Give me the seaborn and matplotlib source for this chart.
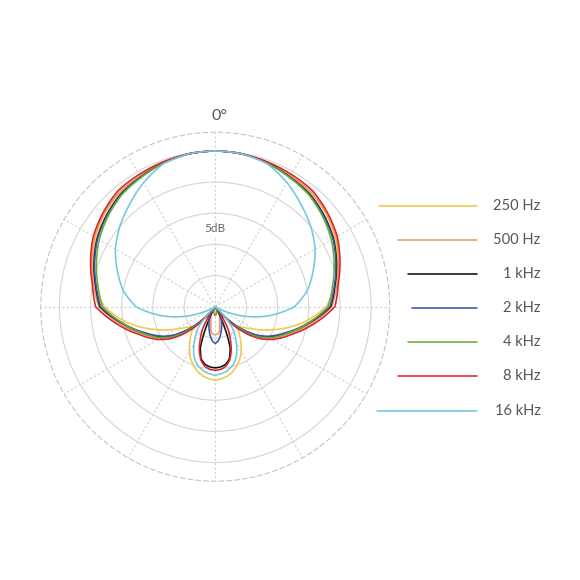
import numpy as np
import pandas as pd
import matplotlib
matplotlib.use("Agg")
import matplotlib.pyplot as plt
import seaborn as sns

# ---- data (dB relative to on-axis, -25 dB = centre) ----
angles_deg = [0, 10, 20, 30, 40, 50, 60, 70, 80, 90, 100, 110, 115, 120, 125, 130, 135, 140, 145,
              150, 155, 160, 165, 170, 175, 180, 185, 190, 195, 200, 205, 210, 215, 220, 225, 230,
              235, 240, 245, 250, 260, 270, 280, 290, 300, 310, 320, 330, 340, 350, 360]

freq_labels = ["250 Hz", "500 Hz", "1 kHz", "2 kHz", "4 kHz", "8 kHz", "16 kHz"]

db_250 = [0, -0.1, -0.4, -0.8, -1.1, -1.8, -2.8, -4.1, -5.5, -7.2, -10.6, -14.4, -16.2, -17.8, -19.2,
          -20.0, -19.8, -18.9, -17.8, -16.7, -15.7, -14.9, -14.2, -13.7, -13.4, -13.2,
          -13.4, -13.7, -14.2, -14.9, -15.7, -16.7, -17.8, -18.9, -19.8, -20.0, -19.2, -17.8, -16.2,
          -14.4, -10.6, -7.2, -5.5, -4.1, -2.8, -1.8, -1.1, -0.8, -0.4, -0.1, 0]
db_500 = [0, -0.1, -0.4, -0.8, -1.0, -1.7, -2.6, -3.9, -5.2, -6.3, -9.4, -12.4, -13.6, -15.0, -16.6,
          -18.6, -21.3, -25, -23.9, -23.6, -23.3, -23.0, -22.3, -21.0, -20.6, -20.5,
          -20.6, -21.0, -22.3, -23.0, -23.3, -23.6, -23.9, -25, -21.3, -18.6, -16.6, -15.0, -13.6,
          -12.4, -9.4, -6.3, -5.2, -3.9, -2.6, -1.7, -1.0, -0.8, -0.4, -0.1, 0]
db_1k = [0, -0.1, -0.5, -1.0, -1.4, -2.2, -3.1, -4.3, -5.5, -6.5, -9.8, -12.7, -14.0, -15.3, -17.0,
         -19.2, -21.6, -25, -25, -25, -22.0, -18.0, -16.3, -15.6, -15.3, -15.2,
         -15.3, -15.6, -16.3, -18.0, -22.0, -25, -25, -25, -21.6, -19.2, -17.0, -15.3, -14.0,
         -12.7, -9.8, -6.5, -5.5, -4.3, -3.1, -2.2, -1.4, -1.0, -0.5, -0.1, 0]
db_2k = [0, -0.1, -0.5, -1.0, -1.5, -2.3, -3.2, -4.4, -5.6, -6.6, -9.9, -12.9, -14.2, -15.5, -17.2,
         -19.4, -22.0, -25, -24.5, -23.4, -22.7, -22.0, -21.2, -20.3, -19.5, -19.1,
         -19.5, -20.3, -21.2, -22.0, -22.7, -23.4, -24.5, -25, -22.0, -19.4, -17.2, -15.5, -14.2,
         -12.9, -9.9, -6.6, -5.6, -4.4, -3.2, -2.3, -1.5, -1.0, -0.5, -0.1, 0]
db_4k = [0, -0.1, -0.5, -1.1, -1.6, -2.5, -3.5, -4.7, -5.9, -6.9, -9.9, -12.6, -13.8, -15.0, -16.6,
         -18.6, -21.4, -25, -25, -25, -25, -24.6, -24.2, -23.9, -23.7, -23.6,
         -23.7, -23.9, -24.2, -24.6, -25, -25, -25, -25, -21.4, -18.6, -16.6, -15.0, -13.8,
         -12.6, -9.9, -6.9, -5.9, -4.7, -3.5, -2.5, -1.6, -1.1, -0.5, -0.1, 0]
db_8k = [0, -0.1, -0.3, -0.5, -0.7, -1.5, -2.4, -3.7, -5.0, -5.8, -9.0, -12.0, -13.2, -14.5, -16.0,
         -18.0, -20.5, -25, -23.5, -21.0, -19.3, -17.5, -16.1, -15.3, -14.9, -14.8,
         -14.9, -15.3, -16.1, -17.5, -19.3, -21.0, -23.5, -25, -20.5, -18.0, -16.0, -14.5, -13.2,
         -12.0, -9.0, -5.8, -5.0, -3.7, -2.4, -1.5, -0.7, -0.5, -0.3, -0.1, 0]
db_16k = [0, -0.1, -0.6, -2.0, -3.6, -5.0, -6.5, -8.3, -10.0, -12.3, -16.5, -21.0, -23.4, -25, -25,
          -25, -23.5, -21.0, -19.6, -18.2, -16.8, -15.7, -15.0, -14.5, -14.2, -14.0,
          -14.2, -14.5, -15.0, -15.7, -16.8, -18.2, -19.6, -21.0, -23.5, -25, -25, -25, -23.4,
          -21.0, -16.5, -12.3, -10.0, -8.3, -6.5, -5.0, -3.6, -2.0, -0.6, -0.1, 0]

series = [db_250, db_500, db_1k, db_2k, db_4k, db_8k, db_16k]
colors = ["#f2c84b", "#f4956a", "#111111", "#3b55a5", "#6aab3c", "#d7262b", "#6ccbdf"]
ring_levels = [-20, -15, -10, -5, 0]
spoke_angles = list(range(0, 360, 30))
legend_line_len = [98, 79, 69, 65, 69, 79, 100]  # style: key line lengths in px

sns.set_theme(style="white")
plt.rcParams['font.family'] = ['Lato', 'DejaVu Sans']
palette = sns.color_palette(colors)

fig = plt.figure(figsize=(5.8, 5.8), dpi=100)
ax = fig.add_axes([0.0703, 0.1703, 0.6017, 0.6017], projection="polar")
ax.set_theta_zero_location("N")
ax.set_theta_direction(-1)
ax.set_axisbelow(True)

theta = np.deg2rad(np.array(angles_deg, dtype=float))
for lab, vals, col in zip(freq_labels, series, palette):
    ln, = ax.plot(theta, np.array(vals, dtype=float), color=col, lw=1.15, label=lab)
    ln.get_path()._interpolation_steps = 12   # draw segments as arcs in polar space

ax.set_ylim(-25, 3.0)
ax.set_rgrids(ring_levels)
ax.set_yticklabels([])
ax.set_thetagrids(spoke_angles)
ax.set_xticklabels([])
ax.set_xlabel("")
ax.set_ylabel("")
ax.tick_params(length=0)
ax.yaxis.grid(True, color="#d4d4d4", lw=0.8, ls="-")
ax.xaxis.grid(True, color="#cfcfcf", lw=0.8, ls=(0, (2, 2)))
ax.spines["polar"].set_color("#c4c4c4")
ax.spines["polar"].set_linewidth(0.8)
ax.spines["polar"].set_linestyle((0, (4, 3)))

ax.text(0, -12.5, "5dB", ha="center", va="center", fontsize=8.5, color="#666666",
        bbox=dict(boxstyle="square,pad=0.15", fc="white", ec="none"), zorder=1.5)
ax.annotate("0°", xy=(0, 5.6), xytext=(3.3, 0), textcoords="offset points",
            ha="center", va="center", fontsize=11.5, color="#555555",
            annotation_clip=False)

# ---- key ----
lax = fig.add_axes([0, 0, 1, 1])
lax.set_xlim(0, 580)
lax.set_ylim(580, 0)
lax.axis("off")
lax.patch.set_alpha(0)
top_y, step, x_right, x_text = 205.7, 34.15, 476.7, 540.7
for i, (lab, col) in enumerate(zip(freq_labels, palette)):
    y = top_y + i * step
    lax.plot([x_right - legend_line_len[i], x_right], [y, y], color=col, lw=1.15)
    lax.text(x_text, y, lab, ha="right", va="center", fontsize=10.5,
             color="#555555")

fig.savefig("out.png", dpi=100, facecolor="white")
